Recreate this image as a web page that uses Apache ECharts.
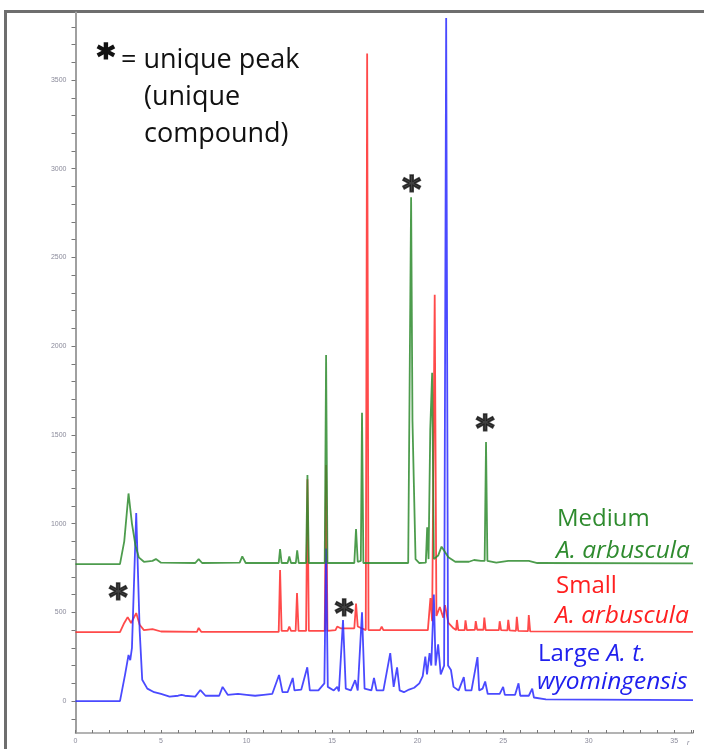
<!DOCTYPE html>
<html>
<head>
<meta charset="utf-8">
<script src="https://cdn.jsdelivr.net/npm/echarts@6/dist/echarts.min.js"></script>
<style>
  html, body { margin: 0; padding: 0; background: #fff; }
  #chart { width: 704px; height: 749px; }
</style>
</head>
<body>
<div id="chart"></div>
<script>
// retention time (min), detector response (traces already offset)
const mediumTrace = [
  [0, 772], [2.6, 772], [2.85, 900], [3.1, 1170], [3.3, 1000], [3.5, 880], [3.7, 810], [4.0, 785],
  [4.5, 790], [4.7, 800], [5.0, 780], [7.0, 778], [7.2, 800], [7.4, 778], [9.6, 780], [9.75, 815],
  [9.95, 778], [11.88, 778], [11.96, 857], [12.05, 778], [12.4, 778], [12.5, 815], [12.6, 778],
  [12.88, 778], [12.96, 850], [13.05, 778], [13.48, 778], [13.56, 1274], [13.64, 778], [14.57, 778],
  [14.65, 1950], [14.73, 778], [16.3, 778], [16.4, 970], [16.5, 785], [16.68, 790], [16.75, 1625],
  [16.83, 778], [19.45, 778], [19.62, 2840], [19.7, 1580], [19.78, 1230], [19.88, 800], [20.1, 778],
  [20.48, 780], [20.56, 980], [20.64, 800], [20.74, 1530], [20.85, 1850], [20.95, 800], [21.2, 820],
  [21.4, 870], [21.6, 840], [21.8, 810], [22.2, 785], [23.0, 785], [23.3, 795], [23.7, 790],
  [23.92, 790], [24.0, 1460], [24.08, 790], [24.6, 780], [25.3, 790], [26.5, 790], [27, 778], [36.1, 776]
];
const smallTrace = [
  [0, 388], [2.6, 388], [2.85, 440], [3.05, 473], [3.25, 440], [3.55, 496], [3.75, 430], [4.0, 400],
  [4.5, 405], [4.6, 405], [5.0, 392], [7.1, 390], [7.2, 412], [7.35, 390], [11.88, 390], [11.96, 738],
  [12.05, 395], [12.4, 395], [12.5, 420], [12.6, 395], [12.87, 395], [12.95, 609], [13.04, 395],
  [13.48, 395], [13.56, 1250], [13.64, 395], [14.57, 395], [14.65, 1330], [14.73, 395], [15.2, 400],
  [15.3, 420], [15.5, 410], [16.3, 410], [16.4, 550], [16.5, 420], [16.97, 400], [17.05, 3650],
  [17.13, 400], [17.8, 400], [17.9, 420], [18.0, 400], [20.6, 400], [20.75, 580], [20.85, 450],
  [21.0, 2290], [21.1, 480], [21.3, 530], [21.5, 470], [21.6, 540], [21.8, 440], [22.1, 410],
  [22.25, 400], [22.3, 457], [22.38, 400], [22.75, 400], [22.8, 455], [22.88, 400], [23.35, 402],
  [23.4, 450], [23.48, 402], [23.85, 402], [23.9, 470], [23.98, 400], [24.75, 400], [24.8, 450],
  [24.88, 400], [25.25, 398], [25.3, 458], [25.38, 398], [25.75, 396], [25.8, 475], [25.88, 396],
  [26.45, 394], [26.5, 485], [26.58, 393], [36.1, 390]
];
const largeTrace = [
  [0, 0], [2.6, 0], [2.9, 150], [3.1, 260], [3.2, 230], [3.3, 300], [3.55, 1060], [3.75, 400],
  [3.9, 120], [4.2, 70], [4.6, 50], [5.0, 40], [5.5, 25], [6.0, 30], [6.2, 35], [6.4, 30], [7.0, 25],
  [7.3, 62], [7.6, 30], [8.4, 30], [8.6, 80], [8.9, 35], [9.5, 40], [9.6, 50], [10.0, 35], [10.5, 30],
  [11.0, 35], [11.5, 40], [11.9, 147], [12.1, 50], [12.4, 50], [12.7, 130], [12.8, 60], [13.2, 65],
  [13.55, 190], [13.7, 60], [14.2, 60], [14.55, 100], [14.65, 860], [14.75, 80], [15.1, 60], [15.3, 80],
  [15.4, 55], [15.64, 456], [15.8, 70], [16.1, 60], [16.35, 118], [16.5, 60], [16.75, 500], [16.9, 70],
  [17.3, 60], [17.45, 130], [17.6, 60], [18.0, 60], [18.4, 270], [18.6, 80], [18.8, 190], [18.95, 60],
  [19.2, 50], [19.5, 65], [19.8, 75], [20.1, 100], [20.3, 140], [20.45, 250], [20.55, 150], [20.7, 270],
  [20.8, 200], [20.95, 600], [21.05, 200], [21.2, 320], [21.35, 150], [21.55, 200], [21.67, 3850],
  [21.78, 200], [21.95, 175], [22.1, 80], [22.4, 60], [22.7, 135], [22.8, 60], [23.15, 60], [23.5, 248],
  [23.6, 60], [23.8, 70], [23.95, 110], [24.1, 40], [24.8, 40], [25.0, 80], [25.1, 35], [25.7, 35],
  [25.9, 100], [26.0, 30], [26.5, 30], [26.7, 70], [26.8, 20], [27.5, 10], [36.1, 5]
];
// asterisks marking unique peaks
const uniquePeaks = [[19.65, 2920], [23.95, 1575], [2.5, 625], [15.7, 530]];

const yTickValues = [];
for (let v = -100; v <= 3800; v += 100) yTickValues.push(v);
const yLabelValues = [0, 500, 1000, 1500, 2000, 2500, 3000, 3500];

const chart = echarts.init(document.getElementById('chart'));

function trace(name, data, color) {
  return {
    name: name,
    type: 'line',
    data: data,
    showSymbol: false,
    animation: false,
    lineStyle: { color: color, width: 1.8, opacity: 0.85 }
  };
}

chart.setOption({
  animation: false,
  grid: { left: 75.5, top: 12.6, right: 11, bottom: 16 },
  xAxis: {
    type: 'value',
    min: 0,
    max: 36.1,
    interval: 1,
    name: 'r',
    nameLocation: 'end',
    nameGap: -6,
    nameTextStyle: { fontSize: 7, color: '#8a8a9a', fontStyle: 'italic', verticalAlign: 'top', padding: [7, 0, 0, 0] },
    axisLine: { onZero: false, lineStyle: { color: '#9a9a9a', width: 1.5 } },
    axisTick: { inside: true, length: 3, lineStyle: { color: '#777' } },
    axisLabel: {
      fontSize: 7, color: '#8a8a9a', margin: 5,
      formatter: v => (v % 5 === 0 ? String(v) : '')
    },
    splitLine: { show: false }
  },
  yAxis: {
    type: 'value',
    min: -180,
    max: 3880,
    axisLine: { show: true, lineStyle: { color: '#a0a0a0', width: 2 } },
    axisTick: { show: true, length: 4, customValues: yTickValues, lineStyle: { color: '#777' } },
    axisLabel: {
      fontSize: 7, color: '#8a8a9a', margin: 9, customValues: yLabelValues,
      formatter: v => String(v)
    },
    splitLine: { show: false }
  },
  series: [
    trace('Small A. arbuscula', smallTrace, '#ff2a2a'),
    trace('Large A. t. wyomingensis', largeTrace, '#2a2aff'),
    trace('Medium A. arbuscula', mediumTrace, '#2e8b2e'),
    {
      type: 'scatter',
      data: uniquePeaks,
      symbolSize: 10,
      itemStyle: { color: 'rgba(0,0,0,0)' },
      z: 5,
      label: {
        show: true, position: 'inside', formatter: '*',
        fontSize: 36, fontWeight: 'bold', color: '#111', fontFamily: 'DejaVu Sans',
        textBorderColor: '#111', textBorderWidth: 1.6,
        offset: [0, 9]
      }
    }
  ],
  graphic: [
    { type: 'rect', shape: { x: 4, y: 10, width: 700, height: 3 }, style: { fill: '#6e6e6e' } },
    { type: 'rect', shape: { x: 4, y: 10, width: 3, height: 739 }, style: { fill: '#6e6e6e' } },
    {
      type: 'text', x: 97, y: 42,
      style: { text: '*', font: 'bold 34px "DejaVu Sans"', fill: '#111', stroke: '#111', lineWidth: 1.6 }
    },
    { type: 'text', x: 121, y: 47, style: { text: '= unique peak', font: '27px "Open Sans"', fill: '#111' } },
    { type: 'text', x: 144, y: 84, style: { text: '(unique', font: '27px "Open Sans"', fill: '#111' } },
    { type: 'text', x: 144, y: 121, style: { text: 'compound)', font: '27px "Open Sans"', fill: '#111' } },
    { type: 'text', x: 557, y: 507, style: { text: 'Medium', font: '24px "Open Sans"', fill: '#2e8b2e' } },
    { type: 'text', x: 556, y: 539, style: { text: 'A. arbuscula', font: 'italic 24.5px "Open Sans"', fill: '#2e8b2e' } },
    { type: 'text', x: 556, y: 574, style: { text: 'Small', font: '24px "Open Sans"', fill: '#ff2020' } },
    { type: 'text', x: 555, y: 604, style: { text: 'A. arbuscula', font: 'italic 24.5px "Open Sans"', fill: '#ff2020' } },
    {
      type: 'text', x: 538, y: 642,
      style: {
        text: '{n|Large }{i|A. t.}', fill: '#2020ee',
        rich: {
          n: { font: '24px "Open Sans"', fill: '#2020ee' },
          i: { font: 'italic 24px "Open Sans"', fill: '#2020ee' }
        }
      }
    },
    { type: 'text', x: 537, y: 670, style: { text: 'wyomingensis', font: 'italic 24.5px "Open Sans"', fill: '#2020ee' } }
  ]
});
</script>
</body>
</html>
